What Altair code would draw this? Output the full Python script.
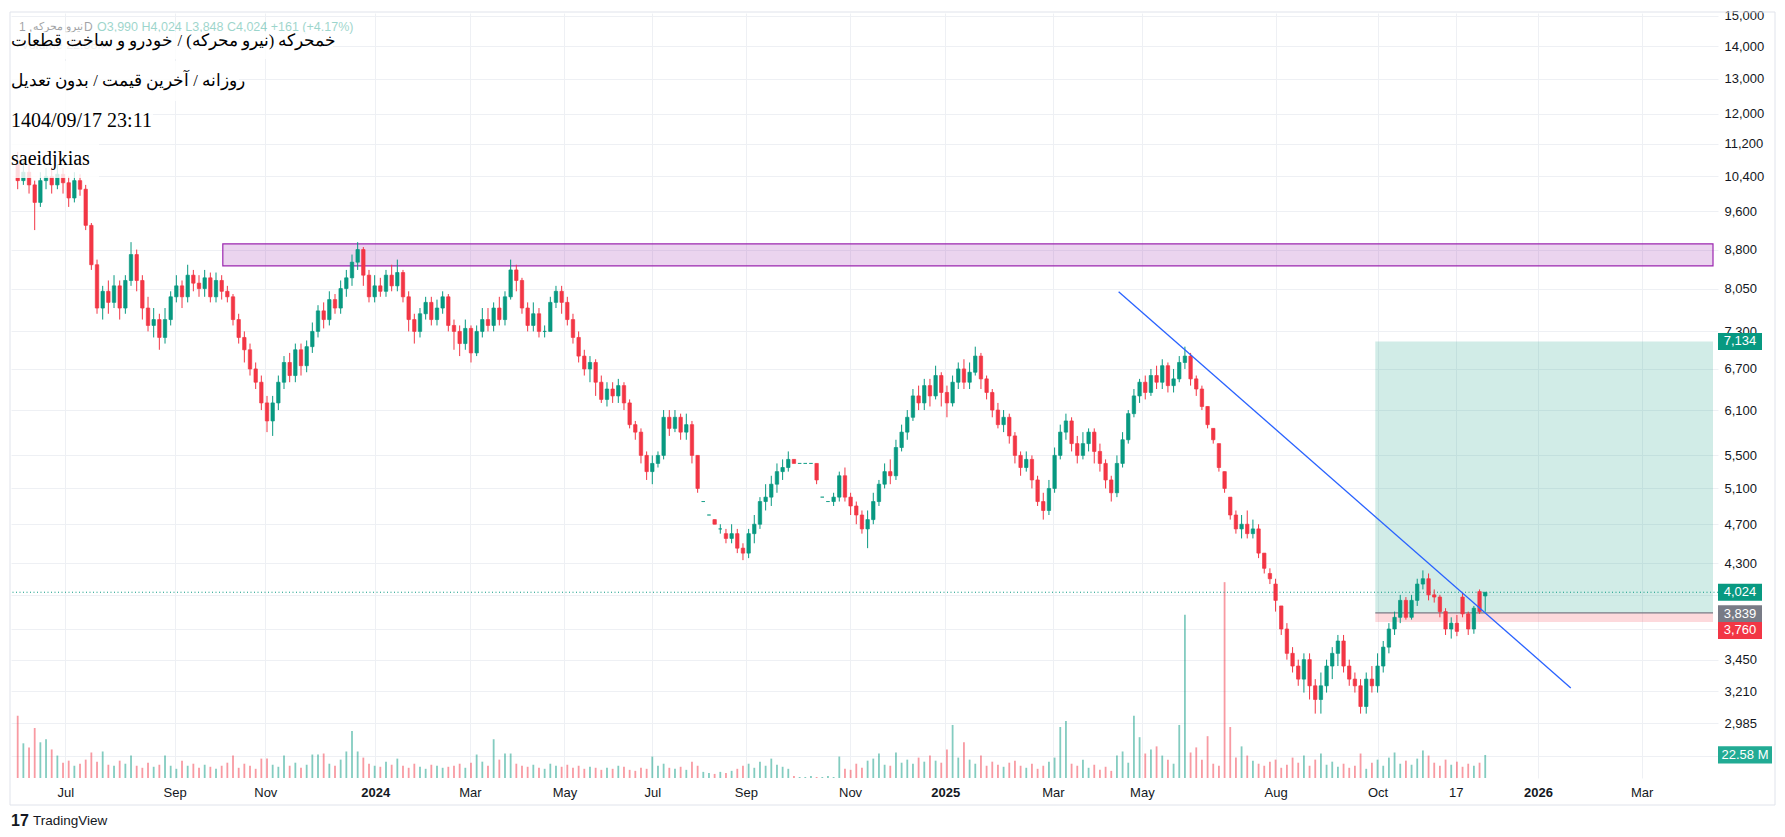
import json
import altair as alt
import pandas as pd

# ---------------- data ----------------
opens = [
    10700,10300,10500,10200,9800,10300,10400,10200,10450,10250,
    9900,10300,10100,9300,8500,7700,8000,7800,8100,7700,
    8200,8700,8200,7700,7400,7500,7200,7500,7900,8100,
    7900,8300,8150,8050,8250,7900,8200,8000,7900,7500,
    7200,7000,6700,6500,6200,5950,6200,6500,6800,6600,
    7000,6750,7050,7300,7650,7500,7850,7700,8050,8250,
    8550,8800,8300,7900,8100,8000,8300,8100,8350,7900,
    7500,7300,7600,7800,7500,7700,7900,7400,7300,7100,
    7350,6950,7300,7500,7400,7700,7500,7900,8400,8200,
    7700,7400,7600,7300,7300,7800,8000,7800,7500,7200,
    6900,6700,6800,6500,6250,6400,6300,6450,6200,5900,
    5800,5500,5300,5400,5500,6000,5850,6000,5800,5900,
    5500,4950,4800,4750,4650,4600,4550,4600,4450,4400,
    4600,4700,4950,5000,5150,5300,5350,5450,5400,5400,
    5400,5400,5000,4950,4950,5000,5250,5000,4900,4800,
    4650,4750,4950,5150,5300,5250,5600,5800,6000,6300,
    6200,6450,6300,6600,6350,6200,6500,6700,6500,6650,
    6900,6550,6350,6100,5900,6000,5750,5500,5350,5450,
    5200,4950,4850,5100,5500,5800,5950,5650,5500,5650,
    5800,5550,5400,5200,5050,5400,5700,6050,6300,6500,
    6350,6600,6500,6750,6450,6550,6800,6900,6550,6400,
    6150,5850,5650,5300,5000,4800,4650,4700,4600,4650,
    4400,4200,4100,3900,3700,3500,3400,3300,3450,3250,
    3150,3250,3400,3500,3600,3400,3300,3250,3100,3300,
    3250,3400,3550,3700,3800,3950,3800,3950,4100,4150,
    4000,3980,3850,3700,3750,3980,3830,3700,4030,3990,
]
highs = [
    11000,10800,10700,10300,10500,10600,10600,10700,10600,10400,
    10500,10450,10200,9350,8600,8100,8200,8300,8200,8300,
    8950,8800,8300,7900,7700,7600,7700,8000,8300,8200,
    8500,8400,8300,8400,8350,8350,8300,8100,7950,7600,
    7300,7100,6800,6600,6300,6300,6600,6900,6950,7100,
    7100,7150,7450,7750,7800,8000,7950,8200,8400,8700,
    8950,8850,8400,8300,8250,8400,8500,8600,8400,8000,
    7600,7700,7900,7900,7850,8000,7950,7500,7400,7500,
    7400,7400,7700,7700,7800,7900,8000,8600,8500,8250,
    7800,7800,7700,7400,7900,8100,8100,7900,7600,7300,
    7000,6900,6850,6600,6500,6500,6550,6500,6250,5950,
    5850,5550,5500,5550,6100,6100,6100,6050,6050,5950,
    5500,4950,4800,4750,4700,4650,4700,4650,4500,4650,
    4800,5000,5150,5250,5400,5450,5550,5450,5400,5400,
    5400,5400,5000,4950,5050,5300,5350,5050,4950,4850,
    4850,5050,5200,5400,5450,5700,5900,6100,6400,6450,
    6550,6550,6750,6650,6450,6600,6800,6850,6800,7050,
    6950,6600,6400,6200,6100,6050,5800,5550,5550,5500,
    5250,5050,5200,5600,5900,6050,6000,5750,5800,5850,
    5850,5650,5450,5250,5500,5800,6100,6400,6550,6600,
    6700,6750,6850,6800,6700,6900,7050,6950,6600,6450,
    6150,5850,5650,5300,5000,4850,4800,4850,4750,4700,
    4400,4250,4150,3900,3750,3550,3450,3500,3500,3300,
    3350,3450,3550,3650,3650,3450,3350,3300,3350,3400,
    3500,3600,3750,3850,4000,3980,4000,4150,4230,4200,
    4050,4000,3880,3800,3820,4020,3850,3900,4050,4024,
]
lows = [
    10100,10200,10000,9200,9700,10100,10000,10100,10000,9700,
    9800,9950,9200,8400,7600,7500,7600,7700,7500,7600,
    8100,8000,7500,7300,7200,7000,7100,7400,7800,7700,
    7800,8000,7900,7900,7800,7800,7850,7800,7400,7100,
    6800,6600,6400,6100,5800,5750,6100,6400,6500,6500,
    6600,6650,6950,7200,7350,7400,7600,7600,7900,8100,
    8400,8100,7800,7800,7900,7900,8000,8000,7800,7300,
    7100,7200,7500,7400,7400,7600,7300,7000,6900,7000,
    6800,6900,7200,7300,7300,7400,7400,7850,8000,7600,
    7300,7300,7200,7200,7300,7700,7600,7400,7100,6800,
    6600,6500,6300,6200,6150,6200,6200,6100,5850,5700,
    5400,5200,5150,5350,5450,5750,5800,5700,5700,5400,
    5050,4950,4800,4700,4600,4500,4500,4400,4330,4350,
    4500,4650,4850,4900,5050,5200,5300,5400,5400,5400,
    5400,5150,5000,4950,4900,4950,4950,4800,4700,4600,
    4450,4700,4900,5100,5150,5200,5550,5700,5950,6100,
    6100,6150,6250,6150,6000,6150,6400,6400,6400,6600,
    6400,6250,6000,5850,5800,5650,5400,5250,5300,5100,
    4900,4750,4800,5050,5450,5700,5550,5400,5450,5550,
    5400,5300,5100,4950,5000,5350,5650,6000,6200,6250,
    6300,6400,6400,6350,6350,6500,6700,6450,6300,6100,
    5850,5650,5300,5050,4750,4600,4550,4550,4550,4350,
    4200,4100,3850,3650,3450,3350,3250,3200,3150,3050,
    3050,3200,3300,3400,3350,3250,3200,3050,3050,3200,
    3200,3350,3500,3650,3750,3780,3780,3900,4050,3950,
    3930,3800,3650,3620,3640,3800,3650,3660,3830,3848,
]
closes = [
    10300,10500,10200,9800,10300,10400,10200,10450,10250,9900,
    10300,10100,9300,8500,7700,8000,7800,8100,7700,8200,
    8700,8200,7700,7400,7500,7200,7500,7900,8100,7900,
    8300,8150,8050,8250,7900,8200,8000,7900,7500,7200,
    7000,6700,6500,6200,5950,6200,6500,6800,6600,7000,
    6750,7050,7300,7650,7500,7850,7700,8050,8250,8550,
    8800,8300,7900,8100,8000,8300,8100,8350,7900,7500,
    7300,7600,7800,7500,7700,7900,7400,7300,7100,7350,
    6950,7300,7500,7400,7700,7500,7900,8400,8200,7700,
    7400,7600,7300,7300,7800,8000,7800,7500,7200,6900,
    6700,6800,6500,6250,6400,6300,6450,6200,5900,5800,
    5500,5300,5400,5500,6000,5850,6000,5800,5900,5500,
    5100,4950,4800,4700,4650,4550,4600,4450,4400,4600,
    4700,4950,5000,5150,5300,5350,5450,5400,5400,5400,
    5400,5200,5000,4950,5000,5250,5000,4900,4800,4650,
    4750,4950,5150,5300,5250,5600,5800,6000,6300,6200,
    6450,6300,6600,6350,6200,6500,6700,6500,6650,6900,
    6550,6350,6100,5900,6000,5750,5500,5350,5450,5200,
    4950,4850,5100,5500,5800,5950,5650,5500,5650,5800,
    5550,5400,5200,5050,5400,5700,6050,6300,6500,6350,
    6600,6500,6750,6450,6550,6800,6900,6550,6400,6150,
    5900,5700,5350,5100,4800,4650,4700,4600,4650,4400,
    4250,4150,3950,3700,3500,3400,3300,3450,3250,3150,
    3250,3400,3500,3600,3400,3300,3250,3100,3300,3250,
    3400,3550,3700,3800,3950,3800,3950,4100,4150,4000,
    3980,3850,3700,3750,3680,3830,3700,3880,3850,4024,
]
volumes = [  # millions
    61,34,30,49,35,38,28,22,15,17,12,14,
    18,25,16,26,13,12,17,14,22,12,10,15,11,
    13,22,12,9,17,12,14,10,13,11,9,12,15,
    22,10,14,12,9,19,19,13,11,22,12,15,10,
    13,23,23,24,14,12,18,26,46,26,20,14,12,
    11,16,13,19,12,10,14,11,9,13,12,10,11,
    12,14,10,15,23,16,12,38,18,24,24,14,12,
    11,13,10,9,14,12,11,13,10,12,9,11,10,
    8,10,9,12,11,8,7,10,9,21,12,14,10,
    9,11,8,16,12,6,5,4,6,5,7,9,12,
    14,10,16,12,19,13,11,9,2,1,1,2,1,
    1,2,1,21,9,8,14,10,17,19,24,13,12,
    25,15,18,14,20,16,22,17,15,28,52,20,35,
    18,14,22,12,16,13,11,15,17,12,10,14,9,
    12,16,20,50,56,14,12,18,10,13,8,11,7,
    22,26,15,61,40,24,28,31,22,18,14,52,160,
    25,30,18,41,14,12,192,50,20,31,22,17,14,
    12,16,18,10,13,20,15,22,12,18,24,13,16,
    11,14,10,12,24,9,15,18,12,20,25,14,17,
    13,19,27,22,15,12,18,13,16,11,14,12,15,22.58,
]

tick_pos = [8.4, 27.7, 43.7, 63.1, 79.8, 96.5, 112.0, 128.5, 146.9,
            163.7, 182.7, 198.4, 222.0, 240.0, 253.8, 268.3, 286.6]
tick_lab = ["Jul", "Sep", "Nov", "2024", "Mar", "May", "Jul", "Sep", "Nov",
            "2025", "Mar", "May", "Aug", "Oct", "17", "2026", "Mar"]
year_pos = [63.1, 163.7, 268.3]
price_ticks = [15000, 14000, 13000, 12000, 11200, 10400, 9600, 8800, 8050,
               7300, 6700, 6100, 5500, 5100, 4700, 4300, 4000, 3700, 3450,
               3210, 2985, 2770]
hidden_ticks = [4000, 3700, 2770]

zone_start, zone_end = 36.2, 299.2
zone_low, zone_high = 8478, 8915
trend_idx = [194.3, 274.1]
trend_price = [7990, 3234]
pos_start = 239.6
target_price, entry_price, stop_price = 7134, 3839, 3760
last_price = 4024
last_volume = 22.58

n = len(closes)
assert len(opens) == n and len(highs) == n and len(lows) == n and len(volumes) == n, (
    len(opens), len(highs), len(lows), len(closes), len(volumes))

GREEN, RED, GRAY = "#089981", "#f23645", "#787b86"
df = pd.DataFrame({"i": list(range(n)), "o": opens, "h": highs, "l": lows,
                   "c": closes, "v": volumes})
df["col"] = [GREEN if c >= o else RED for o, c in zip(opens, closes)]

W, H = 1707, 765
FONT = "Liberation Sans"

xs = alt.Scale(domain=[-0.3, zone_end], nice=False, zero=False)
ps = alt.Scale(type="log", domain=[2633, 15103], nice=False, zero=False)
vs = alt.Scale(domain=[0, 750], nice=False, zero=True)

xaxis = alt.Axis(
    values=tick_pos, title=None, orient="bottom", domain=False, ticks=False, tickSize=0,
    grid=True, gridColor="#eef0f4", labelPadding=8, labelFontSize=13,
    labelColor="#131722", labelFont=FONT, labelOverlap=False, labelFlush=False,
    labelExpr=f"{json.dumps(tick_lab)}[indexof({json.dumps(tick_pos)}, datum.value)]",
    labelFontWeight={"condition": {"test": f"indexof({json.dumps(year_pos)}, datum.value) >= 0",
                                   "value": "bold"}, "value": "normal"},
)
yaxis = alt.Axis(
    values=price_ticks, title=None, orient="right", domain=False, ticks=False, tickSize=0,
    grid=True, gridColor="#eef0f4", labelPadding=6, labelFontSize=13,
    labelColor="#131722", labelFont=FONT, format=",", labelOverlap=False,
    labelExpr=f"indexof({json.dumps(hidden_ticks)}, datum.value) >= 0 ? '' : datum.label",
)

def X(field):
    return alt.X(field, type="quantitative", scale=xs, axis=xaxis, title=None)

def Y(field):
    return alt.Y(field, type="quantitative", scale=ps, axis=yaxis, title=None)

one = alt.Data(values=[{}])

# ---------------- volume pane ----------------
vol = alt.Chart(df).mark_bar(size=1.8, opacity=0.5).encode(
    x=X("i"), y=alt.Y("v:Q", scale=vs, axis=None),
    color=alt.Color("col:N", scale=None))
vdf = pd.DataFrame({"v": [last_volume], "lab": ["22.58 M"]})
vol_badge = alt.Chart(vdf).mark_point(
    shape="M-1,-0.32H1V0.32H-1Z", size=54 * 54, filled=True, opacity=1,
    color="#22ab94", strokeWidth=0).encode(
    x=alt.value(W + 27), y=alt.Y("v:Q", scale=vs, axis=None))
vol_text = alt.Chart(vdf).mark_text(
    color="white", fontSize=13, font=FONT, align="center", baseline="middle").encode(
    x=alt.value(W + 27), y=alt.Y("v:Q", scale=vs, axis=None), text="lab:N")
vol_group = alt.layer(vol, vol_badge, vol_text)

# ---------------- price pane ----------------
zone = alt.Chart(pd.DataFrame({"x1": [zone_start], "x2": [zone_end],
                               "y1": [zone_low], "y2": [zone_high]})).mark_rect(
    fill="#9c27b0", fillOpacity=0.2, stroke="#9c27b0", strokeWidth=1.2).encode(
    x=X("x1"), x2="x2", y=Y("y1"), y2="y2")

pos_df = pd.DataFrame({"x1": [pos_start, pos_start], "x2": [zone_end, zone_end],
                       "y1": [entry_price, stop_price], "y2": [target_price, entry_price],
                       "col": ["#089981", "#f23645"]})
pos = alt.Chart(pos_df).mark_rect(fillOpacity=0.19).encode(
    x=X("x1"), x2="x2", y=Y("y1"), y2="y2", fill=alt.Color("col:N", scale=None))
entry_df = pd.DataFrame({"x1": [pos_start], "x2": [zone_end], "p": [entry_price]})
entry = alt.Chart(entry_df).mark_rule(color=GRAY, strokeWidth=1.2).encode(
    x=X("x1"), x2="x2", y=Y("p"))

last_line = alt.Chart(pd.DataFrame({"p": [last_price]})).mark_rule(
    color=GREEN, strokeWidth=1, strokeDash=[1, 2.5]).encode(y=Y("p"))

wicks = alt.Chart(df).mark_rule(strokeWidth=1).encode(
    x=X("i"), y=Y("l"), y2="h", color=alt.Color("col:N", scale=None))
bodies = alt.Chart(df).mark_bar(size=3.4, strokeWidth=0.7).encode(
    x=X("i"), y=Y("o"), y2="c", fill=alt.Color("col:N", scale=None),
    stroke=alt.Color("col:N", scale=None))

trend = alt.Chart(pd.DataFrame({"i": trend_idx, "p": trend_price})).mark_line(
    color="#2962ff", strokeWidth=1.3).encode(x=X("i"), y=Y("p"))

def badge(price, color, dy=0):
    bdf = pd.DataFrame({"p": [price], "lab": [f"{price:,}"]})
    b = alt.Chart(bdf).mark_point(
        shape="M-1,-0.39H1V0.39H-1Z", size=44 * 44, filled=True, opacity=1,
        strokeWidth=0, color=color, yOffset=dy).encode(x=alt.value(W + 22), y=Y("p"))
    t = alt.Chart(bdf).mark_text(
        color="white", fontSize=13, font=FONT, align="center", baseline="middle",
        yOffset=dy).encode(x=alt.value(W + 22), y=Y("p"), text="lab:N")
    return [b, t]

badges = (badge(target_price, GREEN) + badge(last_price, GREEN)
          + badge(entry_price, GRAY, 1) + badge(stop_price, RED, 8.5))

# ---------------- header overlay ----------------
def txt(s, x, y, size, color="#131722", font=FONT, weight="normal", opacity=1.0):
    return alt.Chart(one).mark_text(
        text=s, fontSize=size, font=font, color=color, align="left", baseline="middle",
        fontWeight=weight, opacity=opacity).encode(x=alt.value(x), y=alt.value(y))

def box(x1, x2, y1, y2, opacity=0.82):
    return alt.Chart(one).mark_rect(color="white", opacity=opacity).encode(
        x=alt.value(x1), x2=alt.value(x2), y=alt.value(y1), y2=alt.value(y2))

LO = 0.4
legend_parts = [
    txt("1 ,", 8, 14, 12, "#131722", opacity=LO),
    txt("نیرو محرکه", 22, 14, 10.5, "#131722", opacity=LO),
    txt("D", 73, 14, 12, "#131722", opacity=LO),
    txt("O3,990  H4,024  L3,848  C4,024  +161 (+4.17%)", 86, 14, 12.5, GREEN, opacity=LO),
    txt("Volume  22.58M", 10, 32, 12.5, "#131722", opacity=LO),
]
SERIF = "Liberation Serif, Times New Roman, DejaVu Serif, serif"
header = [
    box(0, 322, 19, 46), box(0, 228, 48, 88), box(0, 142, 88, 126), box(0, 88, 126, 165),
    txt("خمحرکه (نیرو محرکه) / خودرو و ساخت قطعات", 0, 28, 16.5, "#000000", SERIF),
    txt("روزانه / آخرین قیمت / بدون تعدیل", 0, 68, 16.5, "#000000", SERIF),
    txt("1404/09/17 23:11", 0, 108, 20, "#000000", SERIF),
    txt("saeidjkias", 0, 146, 20, "#000000", SERIF),
]

# ---------------- frame and logo ----------------
FR = "#e0e3eb"
def rule(x1, x2, y1, y2):
    return alt.Chart(one).mark_rule(color=FR, strokeWidth=1).encode(
        x=alt.value(x1), x2=alt.value(x2), y=alt.value(y1), y2=alt.value(y2))

RX = W + 57
frame = [rule(-1, RX, -1, -1), rule(-1, RX, 792, 792),
         rule(-1, -1, -1, 792), rule(RX, RX, -1, 792)]
logo = [txt("17", 0, 808, 16, "#131722", FONT, "bold"),
        txt("TradingView", 22, 808, 13.5, "#131722", FONT)]

price_group = alt.layer(zone, pos, entry, last_line, wicks, bodies, trend,
                        *legend_parts, *header, *badges, *frame, *logo)

chart = alt.layer(vol_group, price_group).resolve_scale(y="independent").properties(
    width=W, height=H, background="white",
    padding={"left": 1, "top": 1, "right": 0, "bottom": 0},
).configure_view(stroke=None)

chart.save("out.html", embed_options={"renderer": "svg", "actions": False})
